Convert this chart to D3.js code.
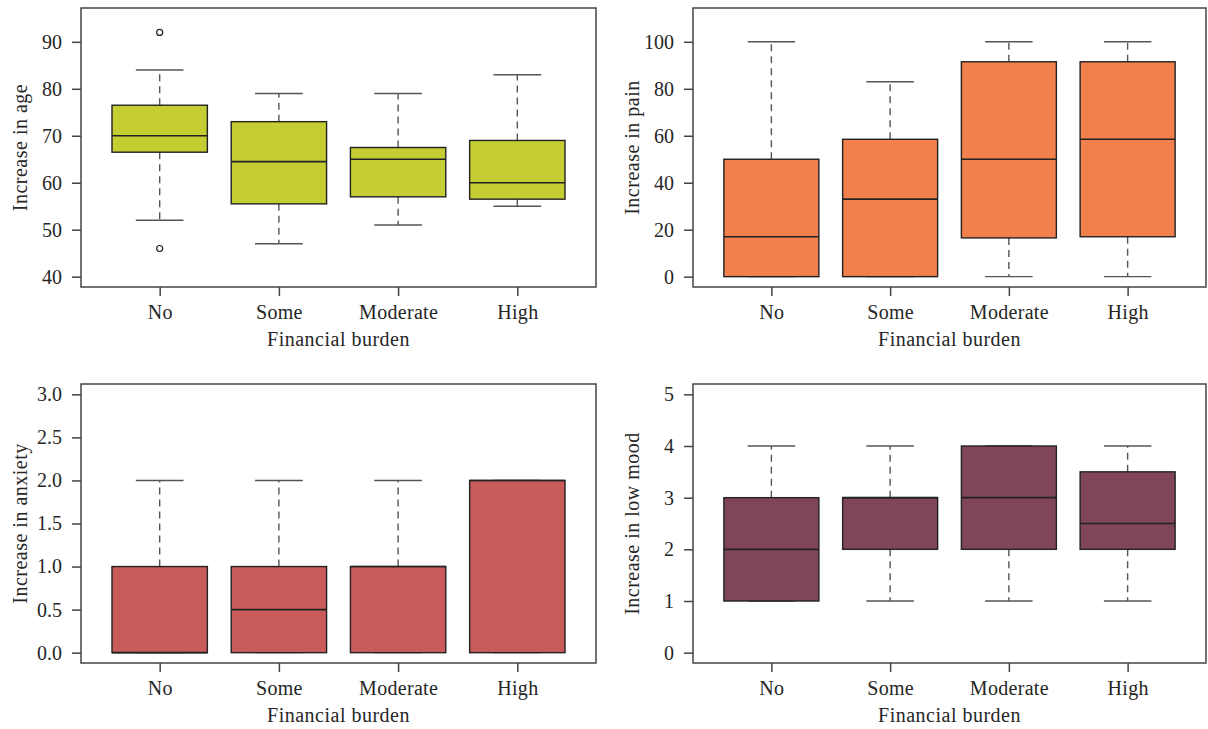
<!DOCTYPE html>
<html>
<head>
<meta charset="utf-8">
<script src="https://cdn.jsdelivr.net/npm/d3@7"></script>
<style>
  html, body { margin: 0; padding: 0; background: #fff; }
  svg text { font-family: "Liberation Serif", "Times New Roman", serif; fill: #262626; }
</style>
</head>
<body>
<div id="chart"></div>
<script>
// financial burden groups, shared by all four panels
const groups = ["No", "Some", "Moderate", "High"];

// five-number summaries: [lower whisker, Q1, median, Q3, upper whisker]
const ageStats = [
  [52, 66.5, 70, 76.5, 84],
  [47, 55.5, 64.5, 73, 79],
  [51, 57, 65, 67.5, 79],
  [55, 56.5, 60, 69, 83]
];
const ageOutliers = [[92, 46], [], [], []];

const painStats = [
  [0, 0, 17, 50, 100],
  [0, 0, 33, 58.5, 83],
  [0, 16.5, 50, 91.5, 100],
  [0, 17, 58.5, 91.5, 100]
];

const anxietyStats = [
  [0, 0, 0, 1, 2],
  [0, 0, 0.5, 1, 2],
  [0, 0, 1, 1, 2],
  [0, 0, 2, 2, 2]
];

const moodStats = [
  [1, 1, 2, 3, 4],
  [1, 2, 3, 3, 4],
  [1, 2, 3, 4, 4],
  [1, 2, 2.5, 3.5, 4]
];

const ageTicks = [40, 50, 60, 70, 80, 90];
const painTicks = [0, 20, 40, 60, 80, 100];
const anxietyTicks = [0, 0.5, 1, 1.5, 2, 2.5, 3];
const moodTicks = [0, 1, 2, 3, 4, 5];

const width = 1208, height = 729;

const svg = d3.select("#chart")
  .append("svg")
  .attr("width", width)
  .attr("height", height);

const panels = [
  {stats: ageStats, outliers: ageOutliers, ylim: [40, 95], ticks: ageTicks, fmt: d3.format("d"),
   title: "Increase in age", fill: "#c4cd31", box: [81, 596, 8, 287]},
  {stats: painStats, outliers: [[], [], [], []], ylim: [0, 110], ticks: painTicks, fmt: d3.format("d"),
   title: "Increase in pain", fill: "#f2804d", box: [693, 1206, 8, 287]},
  {stats: anxietyStats, outliers: [[], [], [], []], ylim: [0, 3], ticks: anxietyTicks, fmt: d3.format(".1f"),
   title: "Increase in anxiety", fill: "#ca5b5b", box: [81, 596, 384, 663]},
  {stats: moodStats, outliers: [[], [], [], []], ylim: [0, 5], ticks: moodTicks, fmt: d3.format("d"),
   title: "Increase in low mood", fill: "#80455a", box: [693, 1206, 384, 663]}
];

panels.forEach(p => {
  const [left, right, top, bottom] = p.box;
  // R style: axis range padded by 4% on each side
  const pad = (p.ylim[1] - p.ylim[0]) * 0.04;
  const y = d3.scaleLinear()
    .domain([p.ylim[0] - pad, p.ylim[1] + pad])
    .range([bottom, top]);
  const x = d3.scaleLinear()
    .domain([0.5 - 0.16, 4.5 + 0.16])
    .range([left, right]);

  const g = svg.append("g");

  const bw = (x(1.4) - x(0.6));
  const cap = bw / 2;

  const boxes = g.append("g")
    .selectAll("g")
    .data(p.stats)
    .join("g")
    .attr("transform", (d, i) => `translate(${x(i + 1)},0)`);

  // whiskers
  boxes.append("line")
    .attr("y1", d => y(d[3])).attr("y2", d => y(d[4]))
    .attr("stroke", "#555").attr("stroke-width", 1.4).attr("stroke-dasharray", "7,5");
  boxes.append("line")
    .attr("y1", d => y(d[1])).attr("y2", d => y(d[0]))
    .attr("stroke", "#555").attr("stroke-width", 1.4).attr("stroke-dasharray", "7,5");
  // caps
  boxes.append("line")
    .attr("x1", -cap / 2).attr("x2", cap / 2)
    .attr("y1", d => y(d[4])).attr("y2", d => y(d[4]))
    .attr("stroke", "#555").attr("stroke-width", 1.4);
  boxes.append("line")
    .attr("x1", -cap / 2).attr("x2", cap / 2)
    .attr("y1", d => y(d[0])).attr("y2", d => y(d[0]))
    .attr("stroke", "#555").attr("stroke-width", 1.4);
  // box
  boxes.append("rect")
    .attr("x", -bw / 2).attr("width", bw)
    .attr("y", d => y(d[3]))
    .attr("height", d => y(d[1]) - y(d[3]))
    .attr("fill", p.fill)
    .attr("stroke", "#222").attr("stroke-width", 1.4);
  // median
  boxes.append("line")
    .attr("x1", -bw / 2).attr("x2", bw / 2)
    .attr("y1", d => y(d[2])).attr("y2", d => y(d[2]))
    .attr("stroke", "#222").attr("stroke-width", 1.6);

  // outliers
  p.outliers.forEach((vals, i) => {
    g.selectAll(null)
      .data(vals)
      .join("circle")
      .attr("cx", x(i + 1))
      .attr("cy", d => y(d))
      .attr("r", 3)
      .attr("fill", "none")
      .attr("stroke", "#222")
      .attr("stroke-width", 1.2);
  });

  // frame
  g.append("rect")
    .attr("x", left).attr("y", top)
    .attr("width", right - left).attr("height", bottom - top)
    .attr("fill", "none")
    .attr("stroke", "#444").attr("stroke-width", 1.5);

  // y axis
  const yAxis = g.append("g")
    .attr("transform", `translate(${left},0)`)
    .call(d3.axisLeft(y).tickValues(p.ticks).tickFormat(p.fmt).tickSize(9).tickPadding(10));
  yAxis.select(".domain").remove();
  yAxis.selectAll(".tick line").attr("stroke", "#444").attr("stroke-width", 1.5);
  yAxis.selectAll("text").style("font-size", "20px").attr("fill", "#262626");

  // x axis
  const xAxis = g.append("g")
    .attr("transform", `translate(0,${bottom})`)
    .call(d3.axisBottom(x).tickValues([1, 2, 3, 4]).tickFormat((d, i) => groups[i]).tickSize(9).tickPadding(9));
  xAxis.select(".domain").remove();
  xAxis.selectAll(".tick line").attr("stroke", "#444").attr("stroke-width", 1.5);
  xAxis.selectAll("text").style("font-size", "20px").style("letter-spacing", "0.3px").attr("fill", "#262626");

  // axis titles
  g.append("text")
    .attr("x", (left + right) / 2)
    .attr("y", bottom + 59)
    .attr("text-anchor", "middle")
    .style("font-size", "20px")
    .style("letter-spacing", "0.5px")
    .text("Financial burden");

  g.append("text")
    .attr("transform", `translate(${left - 61},${(top + bottom) / 2}) rotate(-90)`)
    .attr("dy", "0.35em")
    .attr("text-anchor", "middle")
    .style("font-size", "20px")
    .style("letter-spacing", "0.5px")
    .text(p.title);
});
</script>
</body>
</html>
